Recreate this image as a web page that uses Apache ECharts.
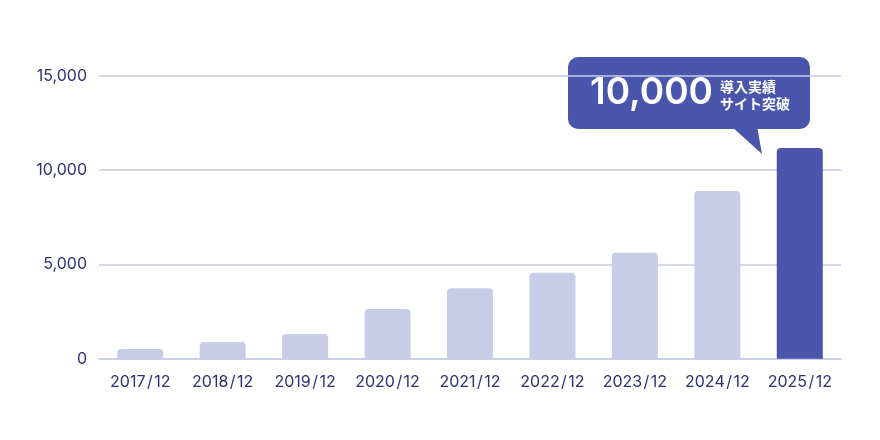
<!DOCTYPE html>
<html>
<head>
<meta charset="utf-8">
<script src="https://cdn.jsdelivr.net/npm/echarts@6/dist/echarts.min.js"></script>
<style>
html,body{margin:0;padding:0;background:#fff;}
#main{width:880px;height:440px;}
</style>
</head>
<body>
<div id="main"></div>
<script>
const categories = ['2017/12','2018/12','2019/12','2020/12','2021/12','2022/12','2023/12','2024/12','2025/12'];
const values = [510, 880, 1310, 2630, 3730, 4560, 5620, 8890, 11170];
const yTicks = [0, 5000, 10000, 15000];
const calloutNumber = '10,000';
const calloutLines = ['導入実績', 'サイト突破'];

const LIGHT = '#c8cde7';
const DARK = '#4a56ab';
const TEXT = '#2f3173';
const GRID = '#c8cde6';

const chart = echarts.init(document.getElementById('main'), null, {renderer: 'canvas'});
const last = values.length - 1;

chart.setOption({
  animation: false,
  backgroundColor: '#ffffff',
  grid: {left: 99, right: 39, top: 75.7, bottom: 81.3, containLabel: false},
  xAxis: {
    type: 'category',
    data: categories,
    axisLine: {show: true, lineStyle: {color: GRID, width: 1.5}},
    axisTick: {show: false},
    axisLabel: {
      interval: 0,
      color: TEXT, fontFamily: 'Inter', fontSize: 16, margin: 15,
      formatter: v => v.replace('/', '\u200a/\u200a')
    }
  },
  yAxis: {
    type: 'value',
    min: yTicks[0],
    max: yTicks[yTicks.length - 1],
    interval: yTicks[1] - yTicks[0],
    axisLine: {show: false},
    axisTick: {show: false},
    splitLine: {lineStyle: {color: GRID, width: 1.5}},
    axisLabel: {
      color: TEXT, fontFamily: 'Inter', fontSize: 16, margin: 12,
      formatter: v => v.toLocaleString('en-US')
    }
  },
  series: [{
    type: 'bar',
    barWidth: 46,
    data: values.map((v, i) => ({
      value: v,
      itemStyle: {color: i === last ? DARK : LIGHT, borderRadius: [4, 4, 0, 0]}
    }))
  }],
  graphic: [{
    type: 'group',
    z: 100,
    children: [
      {type: 'rect', shape: {x: 568, y: 57, width: 242, height: 72, r: 10}, style: {fill: DARK}},
      {type: 'polygon', shape: {points: [[731, 126], [757, 126], [762, 154]]}, style: {fill: DARK}},
      {type: 'text', x: 590, y: 93, style: {text: calloutNumber, fill: '#fff', font: '600 37px Inter', textVerticalAlign: 'middle', textAlign: 'left'}},
      {type: 'text', x: 720, y: 86.5, style: {text: calloutLines[0], fill: '#fff', font: 'bold 14px "Noto Sans CJK JP"', textVerticalAlign: 'middle', textAlign: 'left'}},
      {type: 'text', x: 720, y: 103.5, style: {text: calloutLines[1], fill: '#fff', font: 'bold 14px "Noto Sans CJK JP"', textVerticalAlign: 'middle', textAlign: 'left'}}
    ]
  }]
});
</script>
</body>
</html>
